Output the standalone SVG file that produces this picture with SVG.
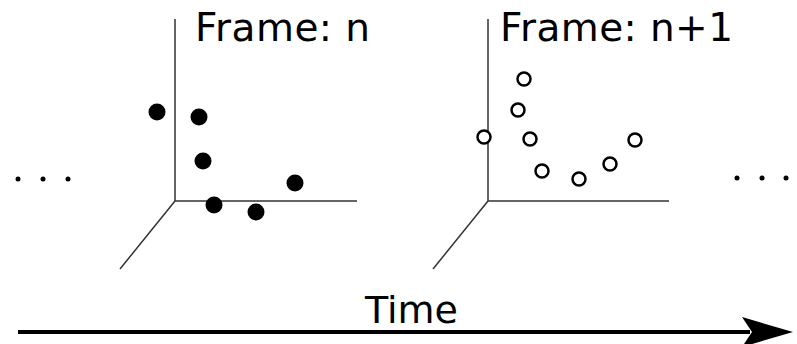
<svg xmlns="http://www.w3.org/2000/svg" width="797" height="344" viewBox="0 0 797 344">
<style>
.ax{stroke:#333;stroke-width:1.5;fill:none}
.lbl{font-family:"DejaVu Sans",Verdana,sans-serif;font-size:39px;fill:#000}
.full{fill:#000}
.open{fill:#fff;stroke:#000;stroke-width:2.5}
.dot{fill:#000}
</style>
<rect width="797" height="344" fill="#fff"/>
<g id="ellipsis-left">
<circle class="dot" cx="18" cy="179" r="2.5"/><circle class="dot" cx="43" cy="179" r="2.5"/><circle class="dot" cx="68" cy="179" r="2.5"/>
</g>
<g id="frame-n">
<path class="ax" d="M175,19 V201 H357 M175,201 L120,269"/>
<text class="lbl" x="195" y="41" textLength="175" lengthAdjust="spacing">Frame: n</text>
<circle class="full" cx="157" cy="112" r="8.5"/>
<circle class="full" cx="199" cy="117" r="8.5"/>
<circle class="full" cx="203" cy="161" r="8.5"/>
<circle class="full" cx="295" cy="183" r="8.5"/>
<circle class="full" cx="214" cy="205" r="8.5"/>
<circle class="full" cx="256" cy="212" r="8.5"/>
</g>
<g id="frame-n1">
<path class="ax" d="M488,19 V201 H669 M488,201 L433,269"/>
<text class="lbl" x="500" y="41" textLength="233" lengthAdjust="spacing">Frame: n+1</text>
<circle class="open" cx="524" cy="79" r="6.5"/>
<circle class="open" cx="518" cy="110" r="6.5"/>
<circle class="open" cx="484" cy="137" r="6.5"/>
<circle class="open" cx="530" cy="139" r="6.5"/>
<circle class="open" cx="635" cy="140" r="6.5"/>
<circle class="open" cx="542" cy="171" r="6.5"/>
<circle class="open" cx="610" cy="164" r="6.5"/>
<circle class="open" cx="579" cy="179" r="6.5"/>
</g>
<g id="ellipsis-right">
<circle class="dot" cx="737" cy="178" r="2.5"/><circle class="dot" cx="762" cy="178" r="2.5"/><circle class="dot" cx="786" cy="178" r="2.5"/>
</g>
<g id="connectors">
<line x1="18" y1="332" x2="750" y2="332" stroke="#000" stroke-width="4"/>
<polygon points="742,317 793,332 742,347 752,332" fill="#000"/>
</g>
<text class="lbl" x="365" y="323" style="font-size:38px" textLength="93" lengthAdjust="spacing">Time</text>
</svg>
